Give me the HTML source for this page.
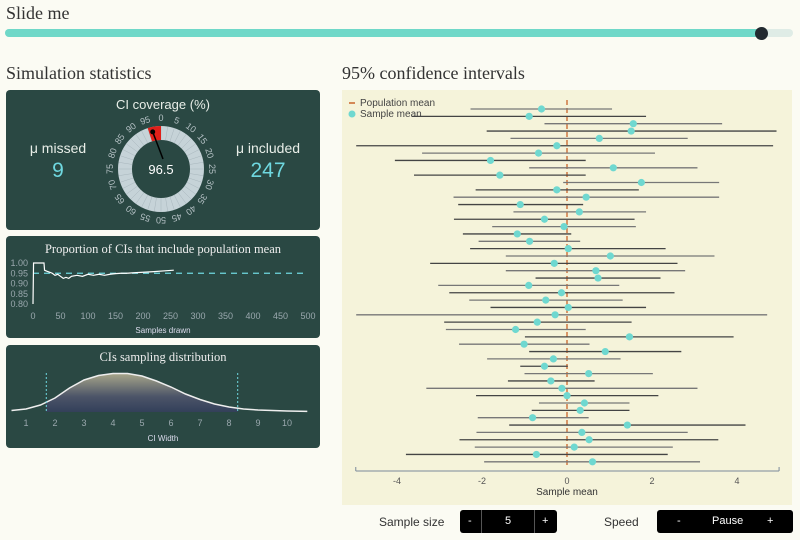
<!DOCTYPE html>
<html><head><meta charset="utf-8"><style>
body{margin:0;width:800px;height:540px;background:#fbfbf3;font-family:"Liberation Sans",sans-serif;position:relative;overflow:hidden}
.h{position:absolute;font-family:"Liberation Serif",serif;font-size:18px;color:#333}
.panel{position:absolute;left:6px;width:314px;background:#2a4843;border-radius:4px}
svg text{font-family:"Liberation Sans",sans-serif}
svg text.serif{font-family:"Liberation Serif",serif}
.ctl{position:absolute;top:510px;height:23px;background:#000;border-radius:3px;color:#fff;font-size:11px}
.ctl span{position:absolute;top:5px}
</style></head><body>
<div class="h" style="left:6px;top:3px">Slide me</div>
<div style="position:absolute;left:5px;top:29px;width:788px;height:8px;border-radius:4px;background:#dfece6"></div>
<div style="position:absolute;left:5px;top:29px;width:757px;height:8px;border-radius:4px;background:#6fd8c8"></div>
<div style="position:absolute;left:755px;top:27px;width:13px;height:13px;border-radius:50%;background:#222a30"></div>
<div class="h" style="left:6px;top:63px">Simulation statistics</div>
<div class="h" style="left:342px;top:63px">95% confidence intervals</div>

<div class="panel" style="top:90px;height:140px">
<svg width="314" height="140" id="gauge">
<text x="157" y="19" fill="#e8eee8" font-size="13" text-anchor="middle">CI coverage (%)</text>
<text x="52" y="63" fill="#e8eee8" font-size="14" text-anchor="middle">μ missed</text>
<text x="52" y="87" fill="#6fd8e0" font-size="21" text-anchor="middle">9</text>
<text x="262" y="63" fill="#e8eee8" font-size="14" text-anchor="middle">μ included</text>
<text x="262" y="87" fill="#6fd8e0" font-size="21" text-anchor="middle">247</text>
<g id="gring"></g>
<text x="155" y="84" fill="#fff" font-size="13" text-anchor="middle">96.5</text>
</svg></div>

<div class="panel" style="top:236px;height:102px">
<svg width="314" height="102" id="prop"></svg></div>

<div class="panel" style="top:345px;height:103px">
<svg width="314" height="103" id="dist"></svg></div>

<svg id="ci" style="position:absolute;left:342px;top:90px" width="450" height="415"></svg>

<div style="position:absolute;left:379px;top:515px;font-size:12px;color:#333">Sample size</div>
<div class="ctl" style="left:460px;width:97px">
<span style="left:8px">-</span>
<span style="left:21px;top:0;width:1px;height:23px;background:#555"></span>
<span style="left:45px">5</span>
<span style="left:74px;top:0;width:1px;height:23px;background:#555"></span>
<span style="left:82px">+</span></div>
<div style="position:absolute;left:604px;top:515px;font-size:12px;color:#333">Speed</div>
<div class="ctl" style="left:657px;width:136px">
<span style="left:20px">-</span>
<span style="left:55px">Pause</span>
<span style="left:110px">+</span></div>

<script>
const NS="http://www.w3.org/2000/svg";
function mk(p,t,a){const e=document.createElementNS(NS,t);for(const k in a)e.setAttribute(k,a[k]);p.appendChild(e);return e;}

// ---- gauge ----
const coverage=96.5;
const gaugeTicks=[0,5,10,15,20,25,30,35,40,45,50,55,60,65,70,75,80,85,90,95];
(function(){
const g=document.getElementById('gring');const cx=155,cy=79,ro=43,ri=29;
const ring=mk(g,'circle',{cx,cy,r:(ro+ri)/2,fill:'none',stroke:'#c6d3d8','stroke-width':ro-ri});


const ang=v=>(v/100*360-90)*Math.PI/180;
for(let v=0;v<100;v+=2.5){const a=ang(v);mk(g,'line',{x1:cx+ri*Math.cos(a),y1:cy+ri*Math.sin(a),x2:cx+ro*Math.cos(a),y2:cy+ro*Math.sin(a),stroke:'#a8b6bc','stroke-width':0.5});}
const a1=ang(95),a2=ang(100);
const red=mk(g,'path',{d:`M${cx+ri*Math.cos(a1)},${cy+ri*Math.sin(a1)} L${cx+ro*Math.cos(a1)},${cy+ro*Math.sin(a1)} A${ro},${ro} 0 0 1 ${cx+ro*Math.cos(a2)},${cy+ro*Math.sin(a2)} L${cx+ri*Math.cos(a2)},${cy+ri*Math.sin(a2)} A${ri},${ri} 0 0 0 ${cx+ri*Math.cos(a1)},${cy+ri*Math.sin(a1)}Z`,fill:'#e0201a'});


gaugeTicks.forEach(v=>{const a=ang(v),r=51;const t=mk(g,'text',{x:cx+r*Math.cos(a),y:cy+r*Math.sin(a)+3,fill:'#b4c0c4','font-size':9,'text-anchor':'middle',transform:`rotate(${v/100*360} ${cx+r*Math.cos(a)} ${cy+r*Math.sin(a)})`});t.textContent=v;

});
const an=ang(coverage);
const nd=mk(g,'line',{x1:cx+2,y1:cy-10,x2:cx+38*Math.cos(an),y2:cy+38*Math.sin(an),stroke:'#000','stroke-width':1.5});


mk(g,'circle',{cx:cx+38*Math.cos(an),cy:cy+38*Math.sin(an),r:2.5,fill:'#000'});
})();

// ---- proportion chart ----
const propX=[0,1,10,20,21,25,30,35,40,45,50,55,60,65,70,80,90,100,110,120,130,140,150,160,170,180,200,220,240,256];
const propY=[0.80,1.00,1.00,1.00,0.965,0.96,0.955,0.95,0.94,0.945,0.935,0.925,0.93,0.925,0.935,0.94,0.935,0.945,0.94,0.945,0.94,0.945,0.948,0.95,0.95,0.952,0.955,0.958,0.962,0.965];
const propTicksY=[1.00,0.95,0.90,0.85,0.80];
const propTicksX=[0,50,100,150,200,250,300,350,400,450,500];
(function(){
const s=document.getElementById('prop');
const px=v=>27+v*0.55, py=v=>27+(1-v)/0.2*41;
const t=mk(s,'text',{x:157,y:17,fill:'#eee','font-size':12.5,'text-anchor':'middle','class':'serif'});t.textContent='Proportion of CIs that include population mean';


propTicksY.forEach(v=>{const e=mk(s,'text',{x:22,y:py(v)+3,fill:'#9aa8ae','font-size':9,'text-anchor':'end'});e.textContent=v.toFixed(2);

});
propTicksX.forEach(v=>{const e=mk(s,'text',{x:px(v),y:83,fill:'#9aa8ae','font-size':9,'text-anchor':'middle'});e.textContent=v;

});
const xl=mk(s,'text',{x:157,y:97,fill:'#dde','font-size':8,'text-anchor':'middle'});xl.textContent='Samples drawn';


const d=mk(s,'line',{x1:px(0),x2:px(500),y1:py(0.95),y2:py(0.95),stroke:'#6fd8e0','stroke-width':1.2,'stroke-dasharray':'6,5'});


let p='';propX.forEach((x,i)=>{p+=(i?'L':'M')+px(x)+','+py(propY[i])+' ';});
const l=mk(s,'path',{d:p,fill:'none',stroke:'#fff','stroke-width':1.2});


})();

// ---- distribution ----
const distX=[0.5,1,1.5,2,2.5,3,3.5,4,4.5,5,5.5,6,6.5,7,7.5,8,8.5,9,9.5,10,10.7];
const distY=[1.5,3,7,14,24,32,36.5,38.5,38.5,36,31,25,18,12.5,8,5,3,2,1.5,1,0.6];
const distTicks=[1,2,3,4,5,6,7,8,9,10];
const distLo=1.7, distHi=8.3;
(function(){
const s=document.getElementById('dist');
const defs=mk(s,'defs',{});const lg=mk(defs,'linearGradient',{id:'dg',x1:0,y1:0,x2:0,y2:1});
mk(lg,'stop',{offset:0,'stop-color':'#a8a68a'});mk(lg,'stop',{offset:0.6,'stop-color':'#4c5468'});mk(lg,'stop',{offset:1,'stop-color':'#33405a'});
const px=v=>20+(v-1)*29, py=v=>67-v;
const t=mk(s,'text',{x:157,y:16,fill:'#eee','font-size':12.5,'text-anchor':'middle','class':'serif'});t.textContent='CIs sampling distribution';


let line='';distX.forEach((x,i)=>{line+=(i?'L':'M')+px(x)+','+py(distY[i])+' ';});
let area='';distX.forEach((x,i)=>{if(x>=distLo&&x<=distHi)area+=(area?'L':'M')+px(x)+','+py(distY[i])+' ';});
const a=mk(s,'path',{d:'M'+px(distLo)+','+py(0)+' L'+px(distLo)+','+py(11)+' '+area.replace('M','L')+'L'+px(distHi)+','+py(4.5)+' L'+px(distHi)+','+py(0)+'Z',fill:'url(#dg)'});


const c=mk(s,'path',{d:line,fill:'none',stroke:'#eee','stroke-width':1.5});


[distLo,distHi].forEach(v=>{const e=mk(s,'line',{x1:px(v),x2:px(v),y1:28,y2:py(0),stroke:'#6fd8e0','stroke-dasharray':'2,2'});

});
distTicks.forEach(v=>{const e=mk(s,'text',{x:px(v),y:81,fill:'#9aa8ae','font-size':9,'text-anchor':'middle'});e.textContent=v;

});
const xl=mk(s,'text',{x:157,y:96,fill:'#dde','font-size':8,'text-anchor':'middle'});xl.textContent='CI Width';


})();

// ---- CI chart ----
const ciLow=[-2.27,-3.65,-0.53,-1.89,-1.33,-4.96,-3.41,-4.05,-0.89,-3.6,-0.09,-2.15,-2.67,-2.56,-1.26,-2.66,-1.76,-2.45,-2.08,-2.28,-1.44,-3.22,-1.44,-0.74,-3.03,-2.77,-2.30,-1.80,-4.96,-2.89,-2.85,-0.99,-2.54,-0.89,-1.88,-1.10,-1.00,-1.39,-3.31,-2.14,-0.66,-0.83,-2.10,-1.36,-2.13,-2.53,-2.17,-3.79,-1.95];
const ciHigh=[1.06,1.86,3.65,4.93,2.84,4.85,2.07,0.44,3.07,0.44,3.58,1.69,3.58,0.38,1.86,1.59,1.62,0.10,0.31,2.32,3.47,2.60,2.78,2.20,1.23,2.53,1.31,1.86,4.71,1.52,0.44,3.92,0.53,2.69,1.26,0.02,2.02,0.65,3.07,2.15,1.47,1.47,0.51,4.20,2.84,3.56,2.49,2.37,3.13];
const ciMean=[-0.60,-0.89,1.56,1.51,0.76,-0.24,-0.67,-1.80,1.09,-1.58,1.75,-0.24,0.45,-1.10,0.29,-0.53,-0.07,-1.17,-0.88,0.03,1.02,-0.30,0.68,0.73,-0.90,-0.13,-0.50,0.03,-0.28,-0.70,-1.21,1.47,-1.01,0.90,-0.32,-0.53,0.51,-0.38,-0.12,0.0,0.41,0.31,-0.81,1.42,0.35,0.52,0.17,-0.72,0.60];
const xTicks=[-4,-2,0,2,4];
const popMean=0;
(function(){
const s=document.getElementById('ci');
mk(s,'rect',{x:0,y:0,width:450,height:415,fill:'#f5f3da'});
const px=v=>225+v*42.5, py=i=>19+i*7.35;
mk(s,'line',{x1:px(popMean),x2:px(popMean),y1:10,y2:378,stroke:'#c8642a','stroke-width':1.3,'stroke-dasharray':'5,3'});
ciLow.forEach((lo,i)=>{const l=mk(s,'line',{x1:px(lo),x2:px(ciHigh[i]),y1:py(i),y2:py(i),stroke:i%2?'#444':'#777','stroke-width':1.3});

});
ciMean.forEach((m,i)=>{const c=mk(s,'circle',{cx:px(m),cy:py(i),r:3.6,fill:'#6fd8d0'});

});
mk(s,'line',{x1:px(-4.97),x2:px(4.99),y1:381,y2:381,stroke:'#7a8a9a','stroke-width':1});
[-4.97,4.99].forEach(v=>mk(s,'line',{x1:px(v),x2:px(v),y1:377,y2:381,stroke:'#7a8a9a'}));
xTicks.forEach(v=>{const e=mk(s,'text',{x:px(v),y:394,fill:'#555','font-size':9,'text-anchor':'middle'});e.textContent=v;

});
const xl=mk(s,'text',{x:225,y:405,fill:'#333','font-size':10,'text-anchor':'middle'});xl.textContent='Sample mean';


const lg=mk(s,'g',{});


mk(lg,'line',{x1:7,x2:13,y1:13,y2:13,stroke:'#c8642a','stroke-width':1.5});
const t1=mk(lg,'text',{x:18,y:16,fill:'#444','font-size':10});t1.textContent='Population mean';
mk(lg,'circle',{cx:10,cy:24,r:3.5,fill:'#6fd8d0'});
const t2=mk(lg,'text',{x:18,y:27,fill:'#444','font-size':10});t2.textContent='Sample mean';
})();
</script>
</body></html>
